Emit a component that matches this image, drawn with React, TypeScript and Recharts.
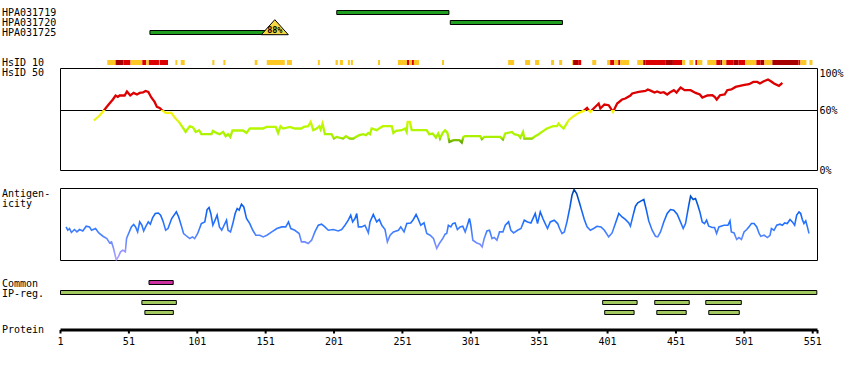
import React from 'react';
import { LineChart, Line, XAxis, YAxis, ReferenceArea, ReferenceLine, ReferenceDot } from 'recharts';

const FONT = '"DejaVu Sans Mono", monospace';
const W = 850;
const H = 370;
const PROTEIN_LENGTH = 554;
const X_DOMAIN: [number, number] = [1, PROTEIN_LENGTH + 0.5];
const LEFT = 60.5;
const RIGHT = 32.5;

// ---- antibodies ----
const antibodyNames = ['HPA031719', 'HPA031720', 'HPA031725'];
const antibodyStart = [203, 286, 66.4];
const antibodyEnd = [285, 368, 157.7];
const antibodyIdentity = [null, null, '88%'];

// ---- HsID strip: [start, end, level] level 1=yellow 2=red 3=dark red ----
const hsidSegments: [number, number, number][] = [
  [35.2, 41.3, 1], [41.3, 47.1, 3], [47.1, 52.2, 2], [52.2, 60.8, 1], [60.8, 63.7, 2],
  [63.7, 65.6, 1], [65.6, 73, 2], [73, 73.5, 1], [73.5, 79.6, 2], [85, 86.4, 1],
  [88.9, 91.8, 1], [112, 113.5, 1], [120.1, 121.6, 1], [143, 145, 1], [151.8, 165, 1],
  [166.5, 170.2, 1], [189.2, 190.6, 1], [202.1, 203.8, 1], [205.3, 207.5, 1], [211.1, 212.6, 1],
  [213.3, 214.8, 1], [233.1, 234.6, 1], [247.7, 254.3, 1], [254.3, 255.8, 2], [255.8, 258, 1],
  [258, 259.4, 2], [259.4, 263.1, 1], [279.9, 281.4, 1], [328.3, 332.7, 1], [340.7, 344.4, 1],
  [348, 351, 1], [359.7, 361.9, 1], [365.6, 367.8, 1], [375.1, 375.8, 1], [375.8, 379.5, 3],
  [379.5, 381.7, 2], [389.8, 392.7, 1], [400.7, 402.9, 1], [402.9, 405.9, 2], [405.9, 408.8, 1],
  [408.8, 410.3, 2], [410.3, 416.8, 1], [422.7, 427.1, 1], [427.1, 428.6, 3], [428.6, 443.2, 2],
  [443.2, 448.8, 3], [448.8, 455.6, 2], [455.6, 457.8, 1], [460.8, 463.7, 1], [465.2, 466.6, 2],
  [466.6, 470.3, 1], [473.9, 480.5, 1], [480.5, 483.4, 2], [483.4, 484.9, 3], [484.9, 487.8, 1],
  [487.8, 493, 2], [493, 496.6, 3], [496.6, 501.7, 2], [501.7, 509.8, 1], [509.8, 512.7, 2],
  [512.7, 515.7, 3], [515.7, 521.5, 1], [521.5, 540.6, 3], [540.6, 542, 2], [542, 546.4, 1],
  [548.6, 550.8, 1],
];
const hsidColors: Record<number, string> = { 1: '#fdc824', 2: '#dd0000', 3: '#a80000' };

// ---- identity (%) ----
const identityPos = [
  25.4, 29.6, 32.7, 35.6, 39.3, 41.3, 42.9, 44.2, 47.9, 49.6, 52, 54.5, 56.9, 58.9, 61.3, 63.2, 65.2, 67.4,
  69.8, 71.5, 73.5, 75.2, 77.9, 82, 84.5, 87.6, 90.6, 92.5, 95.5, 97.9, 99.9, 102.3, 104, 111.4, 112.5, 115,
  117.4, 119.9, 121.8, 123.5, 125.2, 126.7, 134.5, 137, 139.4, 149.1, 151.6, 158.4, 160.1, 161.9, 163.8,
  168.7, 172.3, 177.2, 178.9, 182.1, 183.9, 185.8, 188.3, 190.2, 191.2, 192.6, 194.3, 199.2, 200.9, 202.9,
  207.7, 209.7, 212.6, 215.1, 216.3, 219.4, 222.4, 224.3, 226, 227.3, 228.5, 232.2, 234.6, 236.6, 243.2,
  244.4, 246.3, 250.5, 252.9, 254.1, 254.8, 256.5, 257.8, 268.7, 270.6, 273.1, 275.5, 277.2, 278.5, 280.4,
  282.2, 283.9, 285.4, 288.3, 292.7, 294.4, 295.6, 296.9, 307.8, 309.1, 310.8, 322.5, 324.5, 326.2, 331.1,
  332.8, 335.9, 337.2, 339.2, 340.1, 345.7, 348.1, 350.6, 353, 356.7, 361.1, 364, 365.2, 366.4, 368.9,
  372.5, 376.2, 379.9, 383.5, 386, 387.2, 388.4, 390.8, 394.5, 395.7, 398.7, 401.8, 405, 408, 411.6, 414,
  417.7, 419, 423.8, 428.7, 430.4, 432.9, 435.3, 437.2, 439.7, 442.1, 444.6, 446.5, 449.5, 451.4, 454.4,
  457.3, 461.7, 465.4, 468.5, 470.3, 474, 477.6, 479.3, 480.8, 483.2, 486.6, 488.5, 491.5, 494.6, 500.2,
  504.4, 507.6, 510.5, 512.4, 514.9, 518.3, 520.7, 522.7, 526.3, 528.8,
];
const identityVal = [
  50, 55, 60, 65, 71, 75, 73.6, 75, 75, 79, 75, 77.6, 76, 77.6, 78, 79.6, 78.6, 73,
  68.6, 63.6, 62.6, 60.3, 57.6, 57.6, 53, 48.6, 42.6, 38.6, 44.3, 43, 38.6, 40.3, 36.3, 36.3, 39.6, 37.6,
  36.3, 38.6, 34.3, 36.3, 33.6, 40, 40, 37.6, 42, 42, 43.6, 43.6, 37.6, 44.3, 42,
  43.6, 42, 42, 43.6, 44.3, 48.6, 40.3, 42, 44.3, 41, 47, 36.3, 36.3, 32, 33.6,
  32, 34.3, 32, 32, 33, 35.3, 36.3, 35.3, 37.6, 36.3, 42, 40.3, 42.6, 44.3, 44.3,
  37.6, 39.6, 40.3, 42, 38.6, 48.6, 48.6, 40.3, 40.3, 36.3, 37, 33, 37, 32, 37.6,
  40.3, 37.6, 28.6, 30.3, 30.3, 28, 33.6, 34.3, 34.3, 31.3, 33.6, 33.6, 31, 37, 38.6,
  36.3, 35.3, 33, 38.6, 32, 32, 34.3, 36.3, 38.6, 42, 44.3, 44.3, 47, 45, 42,
  50.3, 54.3, 57.6, 59.6, 62.6, 60.3, 58.6, 62, 67, 62, 66, 65.3, 58.6, 67, 71, 72,
  75, 77, 78.6, 79.6, 81, 79.6, 78, 79, 77.6, 78.3, 76, 78, 80.3, 78, 83,
  80.3, 80.3, 77.6, 76, 73, 75, 75.3, 73.6, 71, 75.3, 76, 80.3, 81, 83.6, 85.3,
  86.3, 88.6, 88.6, 87, 89, 91, 89, 87, 84.6, 87.6,
];
const identityTicks = [0, 60, 100];
const identityColorStops: [number, string][] = [
  [100, '#dd0000'], [60.6, '#dd0000'], [60.2, '#f8f400'], [54, '#f0f41c'], [50, '#e4f418'],
  [47, '#c8f800'], [42, '#b4f800'], [33, '#a8f000'], [31, '#86c800'], [28, '#62a600'],
];

// ---- antigenicity (relative score) ----
const antigenPos = [
  5.1, 6.3, 7.6, 9, 11.2, 13, 14.9, 17.3, 19.8, 22.2, 23.7, 26.6, 29, 32, 34.9, 36.9, 38.3, 39.8, 41.8, 43.5,
  44.9, 46.6, 48.4, 49.3, 50.8, 52.8, 54.5, 55.9, 57.4, 58.9, 60.5, 61.8, 63.2, 65.2, 66.7, 68.4, 70.3, 72.5,
  74.2, 75.9, 77.9, 79.6, 82.3, 85.7, 87.4, 89.6, 91, 93.3, 95.5, 97.5, 99.1, 101.3, 104, 106.5, 108.2, 109.6,
  110.9, 112.4, 114, 115.5, 117.2, 118.9, 120.6, 122.4, 123.5, 125.3, 127, 128.7, 130.2, 131.6, 133.3, 135,
  137, 139.4, 141.6, 143.8, 146.7, 149.2, 151.9, 155.5, 159.2, 162.8, 165.7, 167.7, 169.4, 172.3, 175.5,
  177.2, 179.7, 182.1, 184.6, 187, 189.5, 191.9, 194.3, 196.8, 200.4, 204.1, 206.6, 209, 211.4, 213.2, 214.6,
  216.3, 217.6, 218.8, 221.2, 223.6, 226.1, 227.3, 229.7, 232.2, 234.1, 235.9, 238.3, 240, 242, 244.4, 248.1,
  249.8, 252.2, 254.2, 257.1, 259, 261, 262.7, 264.4, 266.8, 268.8, 271.2, 273.7, 276.1, 278, 280.5, 282.2,
  283.4, 284.6, 286.4, 287.8, 289.5, 291.2, 293.2, 295.1, 296.9, 298.5, 300, 301, 302.5, 305.4, 307.8, 309.3,
  310.8, 312.8, 314.7, 316.5, 318.1, 320.1, 322, 324.5, 326.2, 328.6, 330.3, 332.3, 335.2, 337.7, 340.1, 342.5,
  345, 348.1, 349.8, 351.8, 353.7, 355.4, 357.1, 359.1, 362, 364.5, 365.9, 367.7, 369.4, 371.3, 373.5, 375,
  376.5, 378.4, 380.5, 382, 384, 386, 388.4, 390.8, 393.3, 396.2, 398.7, 401.8, 404.3, 406.7, 409.2, 411.6,
  414, 416.5, 417.7, 419.7, 421.4, 423.1, 425.6, 427.5, 429.4, 431.1, 433.6, 436, 437.7, 439.7, 442.1, 444.6,
  447, 449.4, 451.9, 454.3, 456.3, 458, 460.4, 461.7, 463.6, 465.3, 467, 468.5, 470.2, 471.9, 473.4, 475,
  477.5, 479.2, 480.7, 482.4, 486.1, 489, 490.5, 491.5, 493.5, 495.4, 497.1, 498.9, 500.8, 502.8, 504.4,
  506.2, 508.1, 510.1, 511.8, 513, 515.5, 517.9, 519.8, 520.8, 522.7, 524.7, 527.1, 528.8, 530.5, 532.4,
  534.4, 536.1, 537.8, 539.3, 541, 542.2, 543.4, 544.6, 545.9, 547.1, 548.3,
];
const antigenVal = [
  46.7, 42, 44.4, 38.9, 43, 39.7, 43, 41, 47.6, 46.7, 42, 44.4, 38.3, 33.7, 30.5, 24.4, 25.8, 16.7, 0.4, 6,
  12, 14.3, 12, 30.5, 37.5, 46.7, 50, 46.7, 39.7, 53.6, 49, 41, 46.7, 53.6, 50.4, 59.7, 65.3, 66,
  63, 55, 42, 44.4, 58.3, 67.5, 60.5, 46.7, 37.5, 33.7, 30.5, 32.8, 30.5, 37.5, 51.3, 53.6, 70.8, 73.6,
  65.3, 49, 56, 63, 46.7, 42, 49, 56, 42, 39.7, 51.3, 65.3, 72.2, 69.9, 78.2, 74.4,
  58.3, 51.3, 42, 35.1, 35.1, 32.8, 35.1, 39.7, 44.4, 46.7, 46.7, 53.6, 44.4, 42, 37.5,
  25.8, 25.8, 23.6, 28.2, 39.7, 49, 50.4, 46.7, 42, 43, 41, 43, 49, 56, 63, 53.6,
  58.3, 65.3, 46.7, 46.7, 49, 38.3, 53.6, 63.9, 53.6, 57, 49, 43, 25.8, 35.1, 39.7, 42,
  46.7, 39.7, 51.3, 52.2, 57, 63.9, 57, 49, 52.2, 37.5, 35.1, 30.5, 16.7, 23.6, 30.5, 36.5,
  37.5, 49, 46.7, 51.3, 52.2, 43, 46.7, 47.6, 39.7, 49, 58.3, 49, 28.2, 24.4, 22.6, 18.9,
  30.5, 41, 42, 30.5, 31.9, 28.2, 39.7, 39.7, 49, 53.6, 42, 38.3, 42, 44.4, 56, 53.6,
  52.2, 65.3, 51.3, 67.5, 58.3, 51.3, 44.4, 53.6, 56, 51.3, 44.4, 37.5, 39.7, 53.6, 74, 90.7,
  98.6, 93, 80, 70, 57, 46.7, 42, 44.4, 47.6, 46.7, 42, 32.8, 38.3, 51.3, 65.3, 60.5,
  57, 52.2, 47.6, 63, 75.4, 80, 82.8, 84.7, 69.9, 55, 42, 33.7, 32.8, 39.7, 53.6, 65.3,
  70.8, 69.9, 64.3, 53.6, 44.4, 51.3, 76.8, 89.3, 84.7, 86.1, 76.8, 67.5, 53.6, 51.3, 56, 47.6,
  45.8, 45.8, 37.5, 46.7, 49, 49, 55, 39.7, 38.3, 29.2, 31.9, 29.2, 39.7, 43, 46.7,
  51.3, 51.3, 46.7, 37.5, 33.7, 35.1, 31.9, 35.1, 44.4, 42, 49, 50.4, 49, 52.2, 51.3,
  57, 53.6, 49, 63, 67.5, 65.3, 57, 51.3, 55, 46.7, 37.5,
];
const antigenColorStops: [number, string][] = [
  [100, '#0044a8'], [85, '#0052d0'], [70, '#1062f0'], [55, '#1f6eff'], [42, '#3a7cff'],
  [30, '#6088ff'], [15, '#8c92ff'], [0, '#b4a4ff'],
];

// ---- regions ----
const commonRegions: [number, number][] = [[65.7, 83.4]];
const ipRegionRows: [number, number][][] = [
  [[1, 554]],
  [[60.5, 85.7], [397.4, 422.6], [435.5, 460.7], [472.8, 498.8]],
  [[62.7, 83.5], [398.9, 420.4], [437, 458.5], [475, 497.3]],
];

// ---- protein axis ----
const proteinTicks = [1, 51, 101, 151, 201, 251, 301, 351, 401, 451, 501, 551];

// ---- side labels ----
const sideLabels: { text: string; y: number }[] = [
  { text: 'HPA031719', y: 16 },
  { text: 'HPA031720', y: 26 },
  { text: 'HPA031725', y: 36 },
  { text: 'HsID 10', y: 66 },
  { text: 'HsID 50', y: 76 },
  { text: 'Antigen-', y: 196.5 },
  { text: 'icity', y: 206.5 },
  { text: 'Common', y: 286.5 },
  { text: 'IP-reg.', y: 296.5 },
  { text: 'Protein', y: 333 },
];

const layer: React.CSSProperties = { position: 'absolute', left: 0, top: 0 };

function stopsFor(stops: [number, string][], vmin: number, vmax: number) {
  return stops.map(([v, c], i) => (
    <stop key={i} offset={Math.min(1, Math.max(0, (vmax - v) / (vmax - vmin)))} stopColor={c} />
  ));
}

const triangleShape = (label: string) => (props: any) => {
  const { cx, cy } = props;
  return (
    <g>
      <polygon
        points={`${cx - 13.5},${cy} ${cx + 13.5},${cy} ${cx},${cy - 15}`}
        fill="#f4d844"
        stroke="#000"
        strokeWidth={1}
      />
      <text x={cx} y={cy - 1.8} textAnchor="middle" fontFamily={FONT} fontSize={8.5} fontWeight="bold" fill="#000">
        {label}
      </text>
    </g>
  );
};

const PercentTick = (props: any) => {
  const { x, y, payload } = props;
  const v = payload.value as number;
  // the top label sits just inside the frame, as in the reference
  const dy = v === 100 ? 2.5 : 0;
  return (
    <text x={x} y={y + dy} dy="0.355em" textAnchor="start" fontFamily={FONT} fontSize={10} fill="#000">
      {`${v}%`}
    </text>
  );
};

export default function App() {
  const identityData = identityPos.map((p, i) => ({ pos: p, v: identityVal[i] }));
  const antigenData = antigenPos.map((p, i) => ({ pos: p, v: antigenVal[i] }));
  const idMin = Math.min(...identityVal);
  const idMax = Math.max(...identityVal);
  const agMin = Math.min(...antigenVal);
  const agMax = Math.max(...antigenVal);
  const abData = antibodyStart.map((s, i) => ({ pos: s, end: antibodyEnd[i] }));
  const hsData = hsidSegments.map((s) => ({ pos: s[0] }));
  const regData = ipRegionRows.flat().map((r) => ({ pos: r[0] }));
  const axisData = proteinTicks.map((t) => ({ pos: t }));

  return (
    <div style={{ position: 'absolute', left: 0, top: 0, width: W, height: H, background: '#fff' }}>
      {/* antibodies */}
      <div style={layer}>
        <LineChart width={W} height={H} data={abData} margin={{ top: 10, bottom: 330, left: LEFT, right: RIGHT }}>
          <XAxis type="number" dataKey="pos" domain={X_DOMAIN} hide allowDataOverflow />
          <YAxis type="number" domain={[0, 3]} reversed hide allowDataOverflow />
          {antibodyNames.map((n, i) => (
            <ReferenceArea
              key={n}
              x1={antibodyStart[i]}
              x2={antibodyEnd[i]}
              y1={i + 0.05}
              y2={i + 0.45}
              fill="#1f9e1f"
              fillOpacity={1}
              stroke="#000"
              strokeWidth={1}
            />
          ))}
          {antibodyNames.map((n, i) =>
            antibodyIdentity[i] ? (
              <ReferenceDot
                key={'t' + n}
                x={antibodyEnd[i]}
                y={i + 0.47}
                r={0}
                shape={triangleShape(antibodyIdentity[i] as string)}
              />
            ) : null
          )}
        </LineChart>
      </div>

      {/* HsID strip */}
      <div style={layer}>
        <LineChart width={W} height={H} data={hsData} margin={{ top: 60, bottom: 305, left: LEFT, right: RIGHT }}>
          <XAxis type="number" dataKey="pos" domain={X_DOMAIN} hide allowDataOverflow />
          <YAxis type="number" domain={[0, 1]} hide allowDataOverflow />
          {hsidSegments.map((s, i) => (
            <ReferenceArea
              key={i}
              x1={s[0]}
              x2={s[1]}
              y1={0}
              y2={1}
              fill={hsidColors[s[2]]}
              fillOpacity={1}
              stroke="none"
            />
          ))}
        </LineChart>
      </div>

      {/* identity plot */}
      <div style={layer}>
        <LineChart width={W} height={H} data={identityData} margin={{ top: 68.5, bottom: 199.5, left: LEFT, right: 0 }}>
          <defs>
            <linearGradient id="identityGrad" x1="0" y1="0" x2="0" y2="1">
              {stopsFor(identityColorStops, idMin, idMax)}
            </linearGradient>
          </defs>
          <XAxis type="number" dataKey="pos" domain={X_DOMAIN} hide allowDataOverflow />
          <YAxis
            type="number"
            orientation="right"
            width={RIGHT}
            domain={[0, 102]}
            ticks={identityTicks}
            tickLine={false}
            axisLine={false}
            tickSize={0}
            tickMargin={2}
            tick={<PercentTick />}
            allowDataOverflow
          />
          <ReferenceArea x1={X_DOMAIN[0]} x2={X_DOMAIN[1]} y1={0} y2={102} fill="none" stroke="#000" strokeWidth={1} ifOverflow="visible" />
          <ReferenceLine y={60} stroke="#000" strokeWidth={1} />
          <Line
            type="linear"
            dataKey="v"
            stroke="url(#identityGrad)"
            strokeWidth={2.3}
            dot={false}
            isAnimationActive={false}
          />
        </LineChart>
      </div>

      {/* antigenicity plot */}
      <div style={layer}>
        <LineChart width={W} height={H} data={antigenData} margin={{ top: 188.5, bottom: 109.5, left: LEFT, right: RIGHT }}>
          <defs>
            <linearGradient id="antigenGrad" x1="0" y1="0" x2="0" y2="1">
              {stopsFor(antigenColorStops, agMin, agMax)}
            </linearGradient>
          </defs>
          <XAxis type="number" dataKey="pos" domain={X_DOMAIN} hide allowDataOverflow />
          <YAxis type="number" domain={[0, 100]} hide allowDataOverflow />
          <ReferenceArea x1={X_DOMAIN[0]} x2={X_DOMAIN[1]} y1={0} y2={100} fill="none" stroke="#000" strokeWidth={1} ifOverflow="visible" />
          <Line
            type="linear"
            dataKey="v"
            stroke="url(#antigenGrad)"
            strokeWidth={1.6}
            dot={false}
            isAnimationActive={false}
          />
        </LineChart>
      </div>

      {/* common + IP regions */}
      <div style={layer}>
        <LineChart width={W} height={H} data={regData} margin={{ top: 280, bottom: 50, left: LEFT, right: RIGHT }}>
          <XAxis type="number" dataKey="pos" domain={X_DOMAIN} hide allowDataOverflow />
          <YAxis type="number" domain={[0, 4]} reversed hide allowDataOverflow />
          {commonRegions.map((r, i) => (
            <ReferenceArea key={'c' + i} x1={r[0]} x2={r[1]} y1={0.05} y2={0.45} fill="#cc2fa0" fillOpacity={1} stroke="#000" strokeWidth={1} />
          ))}
          {ipRegionRows.map((row, ri) =>
            row.map((r, i) => (
              <ReferenceArea
                key={ri + '-' + i}
                x1={r[0]}
                x2={r[1]}
                y1={ri + 1.05}
                y2={ri + 1.45}
                fill="#a2c860"
                fillOpacity={1}
                stroke="#000"
                strokeWidth={1}
              />
            ))
          )}
        </LineChart>
      </div>

      {/* protein axis */}
      <div style={layer}>
        <LineChart width={W} height={H} data={axisData} margin={{ top: 300, bottom: 10, left: LEFT, right: RIGHT }}>
          <XAxis
            type="number"
            dataKey="pos"
            domain={X_DOMAIN}
            ticks={[...proteinTicks, X_DOMAIN[1]]}
            tickFormatter={(v: number) => (proteinTicks.includes(v) ? String(v) : '')}
            height={30}
            allowDataOverflow
            axisLine={{ stroke: '#000', strokeWidth: 3 }}
            tickLine={{ stroke: '#000', strokeWidth: 2 }}
            tickSize={3.5}
            tickMargin={4.5}
            tick={{ fontFamily: FONT, fontSize: 10, fill: '#000' }}
            interval={0}
          />
          <YAxis type="number" domain={[0, 1]} hide />
        </LineChart>
      </div>

      {/* side labels */}
      <svg width={W} height={H} style={{ ...layer, pointerEvents: 'none' }}>
        {sideLabels.map((l) => (
          <text key={l.text} x={2} y={l.y} fontFamily={FONT} fontSize={10} fill="#000">
            {l.text}
          </text>
        ))}
      </svg>
    </div>
  );
}
